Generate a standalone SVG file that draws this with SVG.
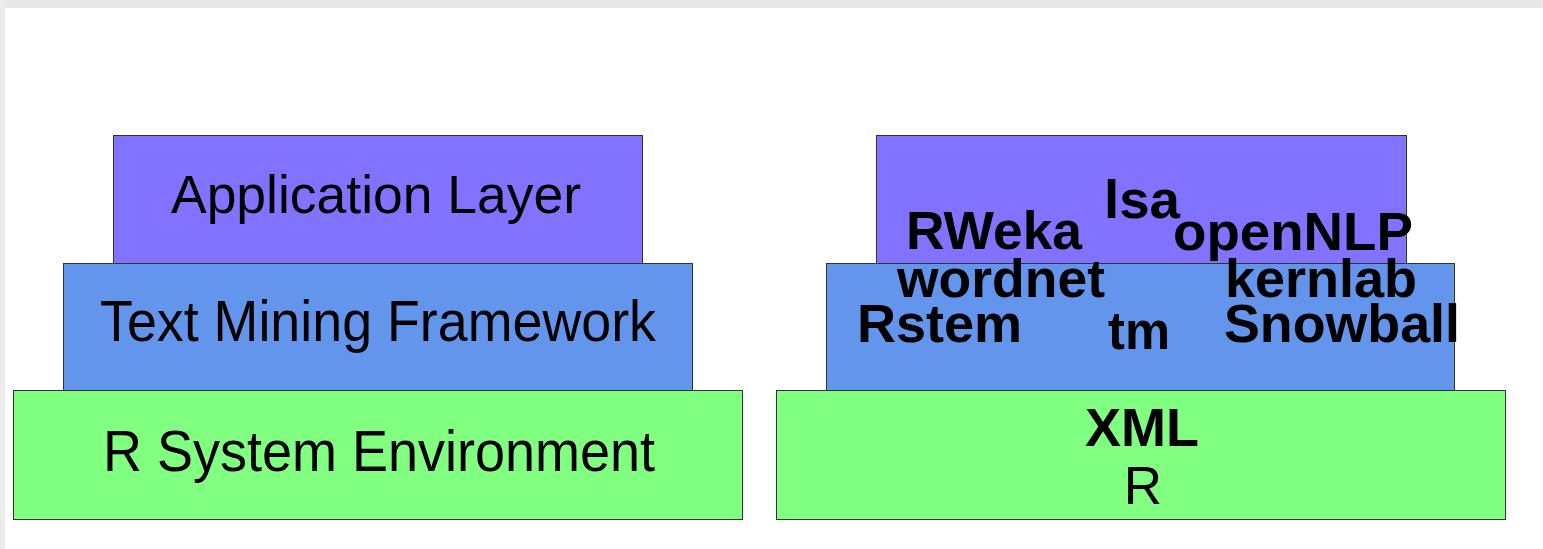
<svg xmlns="http://www.w3.org/2000/svg" width="1543" height="549" viewBox="0 0 1543 549">
  <style>
    .layer { stroke: #333333; stroke-width: 1; }
    .app { fill: #8172ff; }
    .tmf { fill: #6495ed; }
    .rsys { fill: #80ff80; }
    .lbl { font-family: "Liberation Sans", Arial, sans-serif; fill: #000000; }
    .pkg { font-family: "Liberation Sans", Arial, sans-serif; font-weight: bold; font-size: 54px; fill: #000000; }
  </style>

  <!-- page frame -->
  <rect x="0" y="0" width="1543" height="549" fill="#ffffff"/>
  <rect x="0" y="0" width="1543" height="8" fill="#e8e8e8"/>
  <rect x="0" y="0" width="5" height="549" fill="#ececec"/>

  <!-- left stack: generic architecture -->
  <g id="r-system-environment">
    <rect class="layer rsys" x="13.5" y="390.5" width="729" height="129"/>
    <text class="lbl" x="379" y="471" font-size="57" text-anchor="middle" textLength="552" lengthAdjust="spacingAndGlyphs">R System Environment</text>
  </g>
  <g id="text-mining-framework">
    <rect class="layer tmf" x="63.5" y="263.5" width="629" height="127"/>
    <text class="lbl" x="378" y="341" font-size="57" text-anchor="middle" textLength="556" lengthAdjust="spacingAndGlyphs">Text Mining Framework</text>
  </g>
  <g id="application-layer">
    <rect class="layer app" x="113.5" y="135.5" width="529" height="128"/>
    <text class="lbl" x="376" y="213" font-size="53" text-anchor="middle" textLength="410" lengthAdjust="spacingAndGlyphs">Application Layer</text>
  </g>

  <!-- right stack: concrete packages -->
  <g id="r-base">
    <rect class="layer rsys" x="776.5" y="390.5" width="729" height="129"/>
    <text class="lbl" x="1143" y="504" font-size="53" text-anchor="middle">R</text>
  </g>
  <g id="tm-layer">
    <rect class="layer tmf" x="826.5" y="263.5" width="628" height="127"/>
  </g>
  <g id="app-layer">
    <rect class="layer app" x="876.5" y="135.5" width="530" height="128"/>
  </g>

  <g id="packages">
    <text id="xml" class="pkg" x="1142" y="446" font-size="56" text-anchor="middle">XML</text>
    <text id="rweka" class="pkg" x="906" y="249" textLength="176" lengthAdjust="spacingAndGlyphs">RWeka</text>
    <text id="lsa" class="pkg" x="1104" y="218" textLength="76" lengthAdjust="spacingAndGlyphs">lsa</text>
    <text id="opennlp" class="pkg" x="1173" y="250" textLength="240" lengthAdjust="spacingAndGlyphs">openNLP</text>
    <text id="wordnet" class="pkg" x="897" y="297" textLength="208" lengthAdjust="spacingAndGlyphs">wordnet</text>
    <text id="kernlab" class="pkg" x="1225" y="297" textLength="192" lengthAdjust="spacingAndGlyphs">kernlab</text>
    <text id="rstem" class="pkg" x="857" y="342" textLength="165" lengthAdjust="spacingAndGlyphs">Rstem</text>
    <text id="tm" class="pkg" x="1108" y="349" textLength="62" lengthAdjust="spacingAndGlyphs">tm</text>
    <text id="snowball" class="pkg" x="1224" y="342" textLength="236" lengthAdjust="spacingAndGlyphs">Snowball</text>
  </g>
</svg>
